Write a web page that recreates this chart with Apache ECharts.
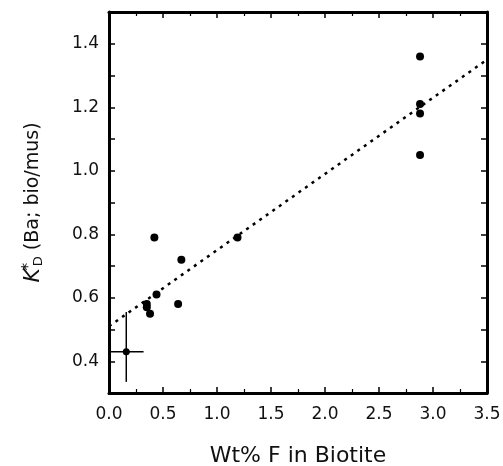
<!DOCTYPE html>
<html>
<head>
<meta charset="utf-8">
<script src="https://cdn.jsdelivr.net/npm/echarts@6/dist/echarts.min.js"></script>
<style>
    html, body { margin: 0; padding: 0; background: #fff; }
    #chart { width: 503px; height: 466px; }
</style>
</head>
<body>
<div id="chart"></div>
<script>
// 数据点 (Wt% F, KD*)
var wtF = [0.42, 1.19, 0.67, 0.44, 0.35, 0.35, 0.38, 0.64, 2.88, 2.88, 2.88, 2.88];
var kd = [0.79, 0.79, 0.72, 0.61, 0.58, 0.57, 0.55, 0.58, 1.36, 1.21, 1.18, 1.05];

// 带误差棒的点: [x, y, xLow, xHigh, yLow, yHigh]
var errPoint = [0.16, 0.43, 0.01, 0.32, 0.335, 0.555];

// 拟合线端点
var fitX = [0.0, 3.5];
var fitY = [0.51, 1.35];

var yTicks = ['0.4', '0.6', '0.8', '1.0', '1.2', '1.4'];

var font = 'DejaVu Sans';

var scatterData = wtF.map(function (x, i) { return [x, kd[i]]; });
var fitData = fitX.map(function (x, i) { return [x, fitY[i]]; });

function baseAxis(extra) {
    var ax = {
        axisLine: { show: true, onZero: false, lineStyle: { color: '#000', width: 3 } },
        axisTick: { show: true, inside: true, length: 6, lineStyle: { color: '#000', width: 1.5 } },
        minorTick: { show: true, splitNumber: 2, length: 4, lineStyle: { color: '#000', width: 1.2 } },
        splitLine: { show: false },
        minorSplitLine: { show: false }
    };
    for (var k in extra) ax[k] = extra[k];
    return ax;
}

var myChart = echarts.init(document.getElementById('chart'));
var option = {
    backgroundColor: '#fff',
    animation: false,
    grid: { left: 109, right: 16, top: 12, bottom: 73, containLabel: false, outerBoundsMode: 'none' },
    xAxis: [
        baseAxis({
            type: 'value', position: 'bottom', min: 0, max: 3.5, interval: 0.5,
            axisLabel: {
                color: '#111', fontFamily: font, fontSize: 17, margin: 13,
                formatter: function (v) { return v.toFixed(1); }
            },
            name: 'Wt% F in Biotite', nameLocation: 'middle', nameGap: 52,
            nameTextStyle: { color: '#111', fontFamily: font, fontSize: 22 }
        }),
        baseAxis({
            type: 'value', position: 'top', min: 0, max: 3.5, interval: 0.5,
            axisLabel: { show: false }
        })
    ],
    yAxis: [
        baseAxis({
            type: 'value', position: 'left', min: 0.3, max: 1.5, interval: 0.1,
            minorTick: { show: false },
            axisLabel: {
                color: '#111', fontFamily: font, fontSize: 17, margin: 10,
                formatter: function (v) {
                    var s = v.toFixed(1);
                    return yTicks.indexOf(s) >= 0 ? s : '';
                }
            },
            name: '{k|K}{sup|*}{sub|D}{t| (Ba; bio/mus)}', nameLocation: 'middle', nameGap: 64,
            nameRotate: 90,
            nameTextStyle: {
                color: '#111', fontFamily: font, fontSize: 19,
                rich: {
                    k: { fontFamily: font, fontSize: 22, fontStyle: 'italic', color: '#111', lineHeight: 24, verticalAlign: 'middle' },
                    sup: { fontFamily: font, fontSize: 16, color: '#111', lineHeight: 24, verticalAlign: 'top', width: 1, padding: [0, 0, 0, 1] },
                    sub: { fontFamily: font, fontSize: 13, color: '#111', lineHeight: 24, verticalAlign: 'bottom' },
                    t: { fontFamily: font, fontSize: 19, color: '#111', lineHeight: 24, verticalAlign: 'middle' }
                }
            }
        }),
        baseAxis({
            type: 'value', position: 'right', min: 0.3, max: 1.5, interval: 0.1,
            minorTick: { show: false },
            axisLabel: { show: false }
        })
    ],
    series: [
        {
            type: 'line',
            data: fitData,
            symbol: 'none',
            lineStyle: { color: '#000', width: 2.5, type: [3, 5] },
            silent: true
        },
        {
            type: 'scatter',
            data: scatterData,
            symbol: 'circle',
            symbolSize: 8,
            itemStyle: { color: '#000', opacity: 1 }
        },
        {
            type: 'custom',
            data: [errPoint],
            renderItem: function (params, api) {
                var c = api.coord([api.value(0), api.value(1)]);
                var xl = api.coord([api.value(2), api.value(1)]);
                var xh = api.coord([api.value(3), api.value(1)]);
                var yl = api.coord([api.value(0), api.value(4)]);
                var yh = api.coord([api.value(0), api.value(5)]);
                var st = { stroke: '#000', lineWidth: 1.5 };
                return {
                    type: 'group',
                    children: [
                        { type: 'line', shape: { x1: xl[0], y1: xl[1], x2: xh[0], y2: xh[1] }, style: st },
                        { type: 'line', shape: { x1: yl[0], y1: yl[1], x2: yh[0], y2: yh[1] }, style: st },
                        { type: 'circle', shape: { cx: c[0], cy: c[1], r: 3.5 }, style: { fill: '#000' } }
                    ]
                };
            }
        }
    ]
};
myChart.setOption(option, true);
</script>
</body>
</html>
